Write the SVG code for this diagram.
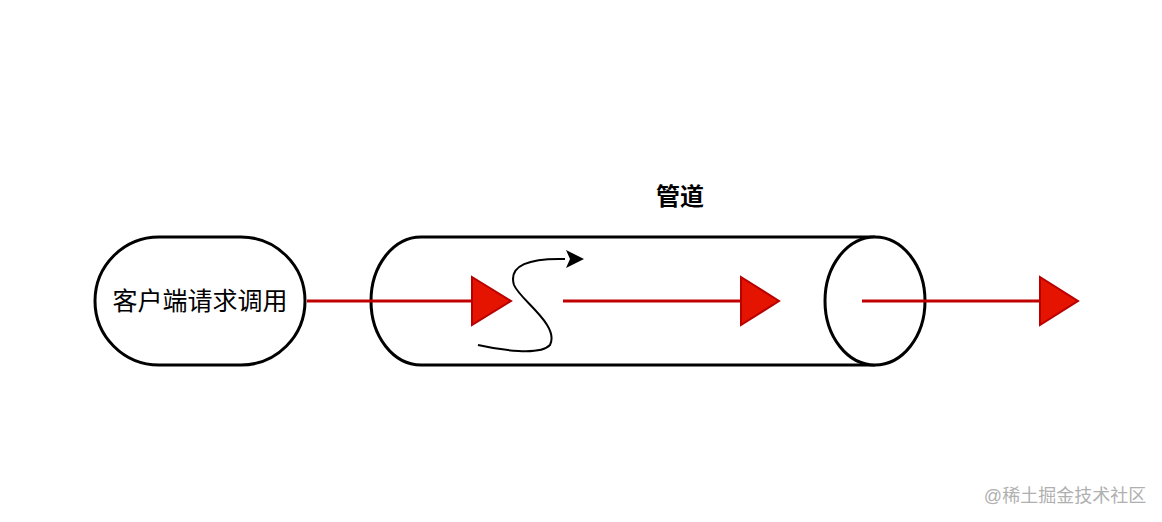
<svg xmlns="http://www.w3.org/2000/svg" width="1162" height="522" viewBox="0 0 1162 522">
<style>
.o{fill:#fff;stroke:#000;stroke-width:3}
.r{stroke:#c00000;stroke-width:3;fill:none}
.t{fill:#e51400;stroke:#b80000;stroke-width:2}
text{font-family:"Liberation Sans","Noto Sans CJK SC",sans-serif}
</style>
<rect width="1162" height="522" fill="#fff"/>
<g id="client">
<rect class="o" x="95" y="237" width="210" height="128" rx="64"/>
<text x="200" y="310" font-size="25" text-anchor="middle">客户端请求调用</text>
</g>
<g id="pipe">
<path class="o" d="M875 237 H421 A50 64 0 0 0 421 365 H875"/>
<ellipse class="o" cx="875" cy="301" rx="50" ry="64"/>
<text x="680" y="205" font-size="24" font-weight="bold" text-anchor="middle">管道</text>
</g>
<g id="connectors">
<line class="r" x1="307" y1="301" x2="472" y2="301"/>
<polygon class="t" points="472,277 511,301 472,325"/>
<line class="r" x1="563" y1="301" x2="741" y2="301"/>
<polygon class="t" points="741,277 779,301 741,325"/>
<line class="r" x1="862" y1="301" x2="1040" y2="301"/>
<polygon class="t" points="1040,277 1078,301 1040,325"/>
<path d="M478 345 C500 350 540 356 550 345 C560 325 520 300 514 285 C508 265 530 258 565 259" fill="none" stroke="#000" stroke-width="2"/>
<polygon points="584,259 566,250 570,259 566,268" fill="#000"/>
</g>
<text x="1065" y="502" font-size="18" fill="#b0b0b0" text-anchor="middle">@稀土掘金技术社区</text>
</svg>
